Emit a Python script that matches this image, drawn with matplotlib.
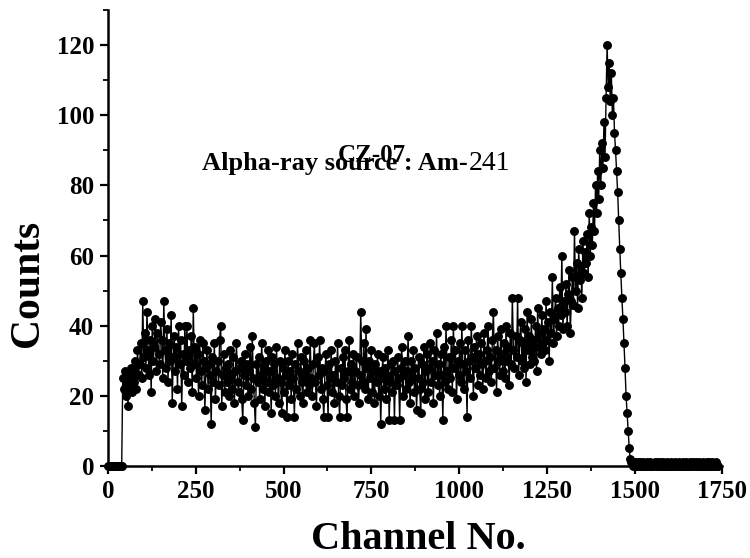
import numpy as np
import matplotlib
matplotlib.use("Agg")
import matplotlib.pyplot as plt
from matplotlib.ticker import MultipleLocator

# Channel step between plotted points
step = 3
counts = [
    # 0-39
    0, 0, 0, 0, 0, 0, 0, 0, 0, 0, 0, 0, 0, 0,
    25, 22, 27, 20, 24, 17, 26, 23, 28, 21,     # 42
    27, 24, 30, 22, 33, 26, 29, 35, 25, 47,     # 72
    31, 38, 28, 44, 33, 26, 36, 21, 40, 30,     # 102
    34, 42, 27, 38, 32, 29, 41, 36, 25, 47,     # 132
    33, 28, 39, 24, 35, 30, 43, 18, 31, 37,     # 162
    27, 34, 22, 40, 29, 36, 17, 32, 26, 40,     # 192
    30, 40, 24, 33, 28, 37, 21, 45, 29, 34,     # 222
    25, 32, 20, 36, 27, 23, 35, 30, 16, 28,     # 252
    33, 22, 29, 26, 12, 31, 24, 35, 19, 27,     # 282
    30, 23, 36, 40, 17, 26, 32, 21, 28, 24,     # 312
    29, 20, 33, 26, 22, 31, 18, 27, 35, 24,     # 342
    21, 28, 30, 19, 13, 26, 32, 23, 29, 20,     # 372
    27, 34, 22, 37, 25, 18, 11, 29, 24, 31,     # 402
    19, 26, 35, 22, 28, 17, 30, 24, 33, 21,     # 432
    27, 15, 31, 23, 29, 20, 34, 25, 18, 30,     # 462
    24, 15, 28, 21, 33, 26, 14, 30, 23, 27,     # 492
    19, 32, 25, 14, 29, 22, 35, 27, 20, 31,     # 522
    24, 18, 30, 26, 33, 21, 28, 23, 36, 25,     # 552
    20, 29, 35, 24, 17, 31, 26, 36, 22, 28,     # 582
    19, 14, 27, 32, 23, 14, 29, 25, 33, 21,     # 612
    26, 18, 30, 24, 35, 20, 14, 28, 23, 31,     # 642
    25, 33, 19, 14, 27, 36, 22, 29, 24, 32,     # 672
    20, 27, 31, 23, 18, 26, 44, 30, 24, 35,     # 702
    22, 39, 28, 19, 30, 25, 33, 21, 27, 18,     # 732
    29, 24, 32, 20, 27, 12, 25, 31, 22, 28,     # 762
    19, 26, 33, 13, 24, 29, 21, 30, 13, 27,     # 792
    23, 31, 25, 13, 28, 34, 20, 26, 30, 22,     # 822
    27, 37, 24, 18, 30, 25, 33, 21, 28, 16,     # 852
    25, 31, 22, 15, 29, 24, 34, 19, 27, 32,     # 882
    21, 28, 35, 24, 30, 18, 33, 26, 38, 23,     # 912
    29, 20, 32, 26, 13, 34, 24, 40, 27, 22,     # 942
    31, 25, 36, 21, 40, 28, 33, 19, 30, 26,     # 972
    35, 24, 40, 29, 22, 33, 27, 14, 36, 30,     # 1002
    25, 40, 31, 20, 34, 28, 37, 23, 32, 26,     # 1032
    35, 29, 22, 38, 30, 25, 33, 40, 27, 31,     # 1062
    24, 36, 44, 28, 33, 21, 37, 30, 26, 39,     # 1092
    32, 27, 35, 25, 40, 30, 34, 23, 38, 29,     # 1122
    48, 33, 28, 37, 31, 48, 26, 36, 41, 30,     # 1152
    35, 28, 39, 24, 44, 33, 37, 29, 42, 31,     # 1182
    36, 30, 40, 27, 45, 34, 38, 32, 43, 35,     # 1212
    39, 33, 47, 36, 41, 30, 44, 38, 54, 35,     # 1242
    42, 48, 37, 45, 40, 51, 43, 60, 39, 47,     # 1272
    44, 52, 40, 49, 56, 38, 47, 54, 46, 67,     # 1302
    50, 58, 45, 62, 53, 57, 48, 64, 55, 61,     # 1332
    58, 66, 54, 72, 60, 68, 63, 75, 67, 80,     # 1362
    72, 84, 76, 90, 80, 92, 85, 98, 88, 105,    # 1392
    120, 108, 115, 104, 112, 100, 105, 95, 90, 84,  # 1422
    78, 70, 62, 55, 48, 42, 35, 28, 20, 15,     # 1452
    10, 5, 2, 1, 1, 0, 1, 0, 0, 1,              # 1482
    0, 1, 0, 0, 1, 0, 0, 0, 1, 0,               # 1512
    0, 1, 0, 0, 0, 1, 0, 1, 0, 0,               # 1542
    1, 0, 0, 1, 0, 0, 0, 1, 0, 0,               # 1572
    0, 1, 0, 0, 1, 0, 0, 0, 1, 0,               # 1602
    0, 0, 1, 0, 0, 1, 0, 0, 0, 1,               # 1632
    0, 0, 1, 0, 1, 0, 0, 1, 0, 0,               # 1662
    0, 1, 0, 0, 0, 1, 0, 1, 0, 0,               # 1692
    1, 0, 0, 1, 0, 0,                           # 1722
]
channels = np.arange(0, step * len(counts), step)

x_ticks = [0, 250, 500, 750, 1000, 1250, 1500, 1750]
y_ticks = [0, 20, 40, 60, 80, 100, 120]

serif = ["Liberation Serif", "DejaVu Serif"]

fig = plt.figure(figsize=(7.5, 5.58), dpi=100)
ax = fig.add_axes([0.144, 0.165, 0.819, 0.817])

ax.plot(channels, counts, color="black", linewidth=1.0,
        marker="o", markersize=5.4, markerfacecolor="black",
        markeredgecolor="black", clip_on=False, zorder=3)

ax.set_xlim(0, 1750)
ax.set_ylim(0, 130)
ax.set_xticks(x_ticks)
ax.set_yticks(y_ticks)
ax.xaxis.set_minor_locator(MultipleLocator(125))
ax.yaxis.set_minor_locator(MultipleLocator(10))

for s in ["top", "right"]:
    ax.spines[s].set_visible(False)
for s in ["left", "bottom"]:
    ax.spines[s].set_linewidth(1.8)

ax.tick_params(which="major", direction="out", length=6, width=1.6,
               labelsize=18, pad=4)
ax.tick_params(which="minor", direction="out", length=3.5, width=1.3)
for lab in ax.get_xticklabels() + ax.get_yticklabels():
    lab.set_family(serif)
    lab.set_fontweight("bold")

ax.set_xlabel("Channel No.", family=serif, fontweight="bold", fontsize=29)
ax.xaxis.label.set_va("center")
ax.xaxis.set_label_coords(0.505, -0.162)
ax.set_ylabel("Counts", family=serif, fontweight="bold", fontsize=30)
ax.yaxis.label.set_va("center")
ax.yaxis.set_label_coords(-0.13, 0.40)

fig.text(372 / 750, 1 - 162 / 558, "CZ-07", family=serif,
         fontweight="bold", fontsize=18, ha="center", va="baseline")
t1 = fig.text(202 / 750, 1 - 170 / 558, "Alpha-ray source : Am-",
              family=serif, fontweight="bold", fontsize=19,
              ha="left", va="baseline")
fig.canvas.draw()
bb = t1.get_window_extent(renderer=fig.canvas.get_renderer())
fig.text(bb.x1 / fig.bbox.width + 0.002, 1 - 170 / 558, "241",
         family=serif, fontsize=20, ha="left", va="baseline")

fig.savefig("out.png", dpi=100)
